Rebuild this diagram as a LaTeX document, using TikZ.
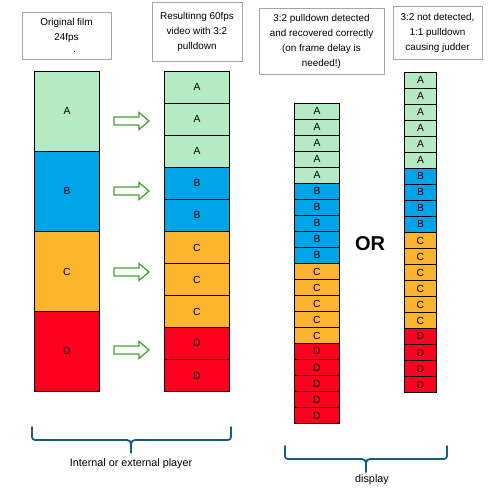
\documentclass[tikz,border=0pt]{standalone}
\usepackage{fontspec}
\setmainfont{Liberation Sans}

\definecolor{fillA}{HTML}{B4EBC5}
\definecolor{fillB}{HTML}{00A5E8}
\definecolor{fillC}{HTML}{FDB52E}
\definecolor{fillD}{HTML}{FF0020}
\definecolor{arrowgreen}{HTML}{45A235}
\definecolor{bracecol}{HTML}{155E7E}
\definecolor{boxgray}{HTML}{A6A6A6}

\tikzset{
  frame/.style={draw=boxgray, line width=0.8pt, align=center, inner sep=0pt,
    font=\fontsize{9.9}{15}\selectfont},
  cell/.style={draw=black, line width=0.9pt, inner sep=0pt, anchor=north west,
    font=\fontsize{10.3}{12}\selectfont},
  fwd/.style={draw=arrowgreen, fill=white, line width=1.3pt, line join=miter},
  brace/.style={draw=bracecol, line width=1.8pt, line cap=round},
  caption/.style={font=\fontsize{10.8}{12}\selectfont}
}

\begin{document}
\begin{tikzpicture}[x=1pt, y=-1pt]
    \useasboundingbox (0,0) rectangle (503,493);

    % header boxes
    \node[frame, minimum width=89pt, minimum height=47pt] (hdfilm) at (66.5,35.5)
        {Original film\\24fps\\[-3pt]\hspace*{16pt}.};
    \node[frame, minimum width=90pt, minimum height=59pt] (hdvideo) at (197,31.5)
        {Resultinng 60fps\\video with 3:2\\pulldown};
    \node[frame, minimum width=125pt, minimum height=66pt] (hdgood) at (321.5,41)
        {3:2 pulldown detected\\and recovered correctly\\(on frame delay is\\needed!)};
    \node[frame, minimum width=89pt, minimum height=53pt] (hdbad) at (437.5,32.5)
        {3:2 not detected,\\1:1 pulldown\\causing judder};

    % original film, 24fps
    \foreach \l [count=\i] in {A,B,C,D}
        \node[cell, fill=fill\l, minimum width=65pt, minimum height=80pt]
            (film\i) at (34,{71+(\i-1)*80}) {\l};

    % 60fps video with 3:2 pulldown
    \foreach \l [count=\i] in {A,A,A,B,B,C,C,C,D,D}
        \node[cell, fill=fill\l, minimum width=65pt, minimum height=32pt]
            (video\i) at (164,{71+(\i-1)*32}) {\l};

    % block arrows
    \foreach \y in {121,191,272,350}
        \draw[fwd] (114,\y-4) -- (139,\y-4) -- (139,\y-8.5) -- (149,\y)
            -- (139,\y+8.5) -- (139,\y+4) -- (114,\y+4) -- cycle;

    % display, recovered
    \foreach \l [count=\i] in {A,A,A,A,A,B,B,B,B,B,C,C,C,C,C,D,D,D,D,D}
        \node[cell, fill=fill\l, minimum width=45pt, minimum height=16pt]
            (good\i) at (294,{103+(\i-1)*16}) {\l};

    % display, judder
    \foreach \l [count=\i] in {A,A,A,A,A,A,B,B,B,B,C,C,C,C,C,C,D,D,D,D}
        \node[cell, fill=fill\l, minimum width=32pt, minimum height=16pt]
            (bad\i) at (404,{72+(\i-1)*16}) {\l};

    \node[font=\fontsize{20}{24}\selectfont\bfseries] (orword) at (370,244) {OR};

    % braces
    \draw[brace] (32,427) -- (32,437) arc (180:90:3) -- (127,440)
        to[out=0,in=90] (131,444) -- (131,453);
    \draw[brace] (231,427) -- (231,437) arc (0:90:3) -- (135,440)
        to[out=180,in=90] (131,444);
    \node[caption] (player) at (131,464) {Internal or external player};

    \draw[brace] (285,446) -- (285,456) arc (180:90:3) -- (362,459)
        to[out=0,in=90] (366,463) -- (366,472);
    \draw[brace] (447,446) -- (447,456) arc (0:90:3) -- (370,459)
        to[out=180,in=90] (366,463);
    \node[caption] (display) at (372,480) {display};
\end{tikzpicture}
\end{document}
